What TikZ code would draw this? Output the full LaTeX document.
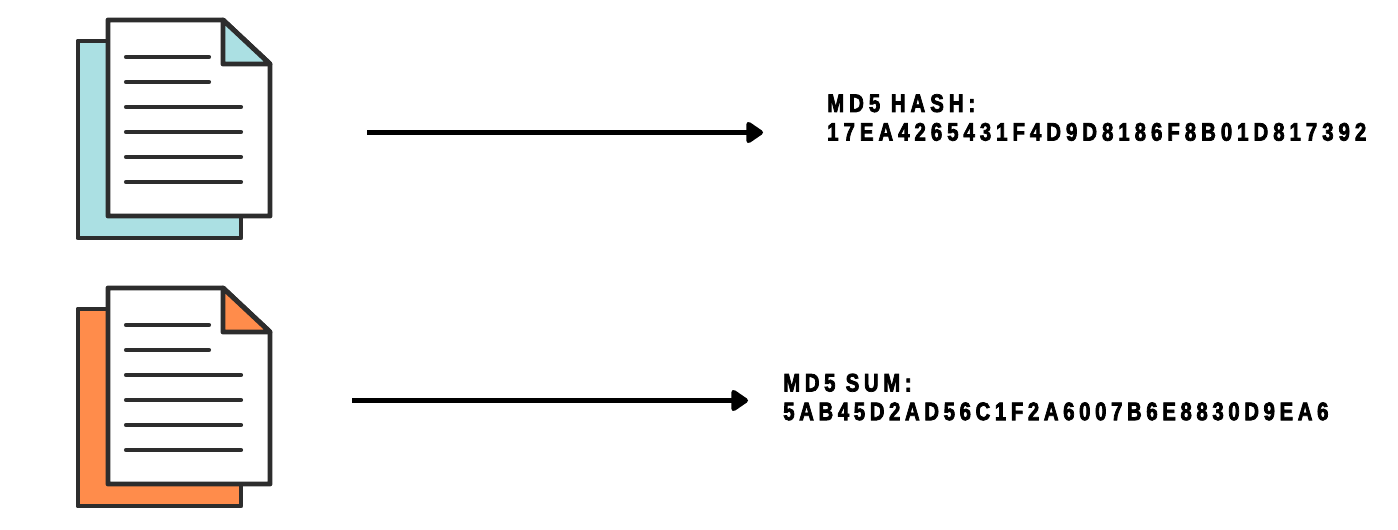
\documentclass[tikz,border=0pt]{standalone}
\usepackage{fontspec}
\setmainfont{Liberation Sans}
\newfontfamily\hashfont[FakeStretch=0.8,LetterSpace=20,FakeBold=3]{Liberation Sans Bold}
\newfontfamily\sumfont[FakeStretch=0.8,LetterSpace=18.5,FakeBold=3]{Liberation Sans Bold}
\usetikzlibrary{arrows.meta}
\definecolor{ink}{HTML}{2D2D2D}
\definecolor{teal}{HTML}{ABE0E3}
\definecolor{orng}{HTML}{FF8C4B}
\tikzset{
  x=0.75pt,y=-0.75pt,
  outline/.style={draw=ink,line width=3.7pt,line join=round},
  textline/.style={draw=ink,line width=3.1pt,line cap=round},
  flow/.style={draw=black,line width=4pt,-{Triangle[round,length=14pt,width=18pt]}},
  hash/.style={anchor=north west,inner sep=0pt,align=left,text=black},
  pics/document/.style={code={
    \path[outline,fill=#1] (78,41) -- (241,41) -- (241,238) -- (78,238) -- cycle;
    \path[outline,fill=white] (108,20) -- (223,20) -- (270,64) -- (270,216) -- (108,216) -- cycle;
    \path[outline,fill=#1] (223,20) -- (270,64) -- (223,64) -- cycle;
    \foreach \yy/\xx in {57/209,82/209,107/241,132/241,157/241,182/241}
      \path[textline] (126,\yy) -- (\xx,\yy);
  }}
}
\begin{document}
\begin{tikzpicture}
\useasboundingbox (0,0) rectangle (1398,530);
\pic at (0,0) {document=teal};
\pic at (0,268) {document=orng};
\coordinate (a1) at (367,132.5);
\coordinate (b1) at (763,132.5);
\coordinate (a2) at (352,400.5);
\coordinate (b2) at (748,400.5);
\path[flow] (a1) -- (b1);
\path[flow] (a2) -- (b2);
\node[hash,font=\hashfont\fontsize{19pt}{21.5pt}\selectfont] (hashlabel) at (827,94) {MD5 HASH:\\17EA4265431F4D9D8186F8B01D817392};
\node[hash,font=\sumfont\fontsize{19pt}{21.5pt}\selectfont] (sumlabel) at (783,373.5) {MD5 SUM:\\5AB45D2AD56C1F2A6007B6E8830D9EA6};
\end{tikzpicture}
\end{document}
